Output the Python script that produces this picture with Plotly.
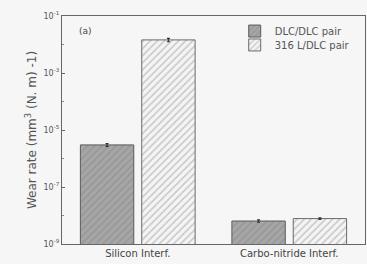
import plotly.graph_objects as go

categories = ["Silicon Interf.", "Carbo-nitride Interf."]
dlc_dlc = [3.0e-6, 6.4e-9]
dlc_dlc_err = [0.35e-6, 0.6e-9]
l316_dlc = [1.45e-2, 7.8e-9]
l316_dlc_err = [0.2e-2, 0.5e-9]
series_names = ["DLC/DLC pair", "316 L/DLC pair"]
tick_vals = [1e-9, 1e-7, 1e-5, 1e-3, 1e-1]
tick_text = ["10<sup>-9</sup>", "10<sup>-7</sup>", "10<sup>-5</sup>", "10<sup>-3</sup>", "10<sup>-1</sup>"]

FONT = "DejaVu Sans, Verdana, sans-serif"

fig = go.Figure()
fig.add_trace(go.Bar(
    x=categories, y=dlc_dlc, name=series_names[0], legend="legend",
    error_y=dict(type="data", array=dlc_dlc_err, color="#333", thickness=1.2, width=1.5),
    marker=dict(color="#a3a3a3", line=dict(color="#5a5a5a", width=1),
                pattern=dict(shape="/", fgcolor="#858585", bgcolor="#a6a6a6", size=5, solidity=0.3)),
))
fig.add_trace(go.Bar(
    x=categories, y=l316_dlc, name=series_names[1], legend="legend2",
    error_y=dict(type="data", array=l316_dlc_err, color="#333", thickness=1.2, width=1.5),
    marker=dict(color="#f2f2f2", line=dict(color="#6a6a6a", width=1),
                pattern=dict(shape="/", fgcolor="#9a9a9a", bgcolor="#f4f4f4", size=5, solidity=0.3)),
))

leg_common = dict(xanchor="left", yanchor="middle", bgcolor="rgba(0,0,0,0)",
                  font=dict(family=FONT, size=10, color="#555"), itemwidth=30)

fig.update_layout(
    width=367, height=264,
    margin=dict(l=62, r=2, t=16, b=20),
    paper_bgcolor="#f6f6f6", plot_bgcolor="#f6f6f6",
    barmode="group", bargap=0.19, bargroupgap=0.13,
    font=dict(family=FONT, color="#555", size=9),
    showlegend=True,
    legend=dict(x=0.57, y=0.934, **leg_common),
    legend2=dict(x=0.57, y=0.873, **leg_common),
    xaxis=dict(showline=True, linecolor="#666", linewidth=1.2, mirror=True,
               ticks="", ticklen=0, tickfont=dict(family=FONT, size=10, color="#444"),
               range=[-0.5, 1.5]),
    yaxis=dict(type="log", range=[-9, -1], showline=True, linecolor="#666", linewidth=1.2,
               mirror=True, showgrid=False, ticks="inside", ticklen=3, tickcolor="#666",
               tickvals=tick_vals, ticktext=tick_text, tickfont=dict(size=8, color="#555"),
               minor=dict(ticks="inside", ticklen=2, tickcolor="#888", dtick=1, showgrid=False),
               title=dict(text="Wear rate (mm<sup>3</sup> (N. m) -1)",
                          font=dict(family=FONT, size=12, color="#555"), standoff=4)),
    annotations=[dict(text="(a)", xref="paper", yref="paper", x=0.05, y=0.934,
                      yanchor="middle", showarrow=False,
                      font=dict(family=FONT, size=9, color="#444"), xanchor="left")],
)

fig.write_html("out.html", config={"displayModeBar": False},
               post_script="document.body.style.margin='0';document.body.style.background='#f6f6f6';")
